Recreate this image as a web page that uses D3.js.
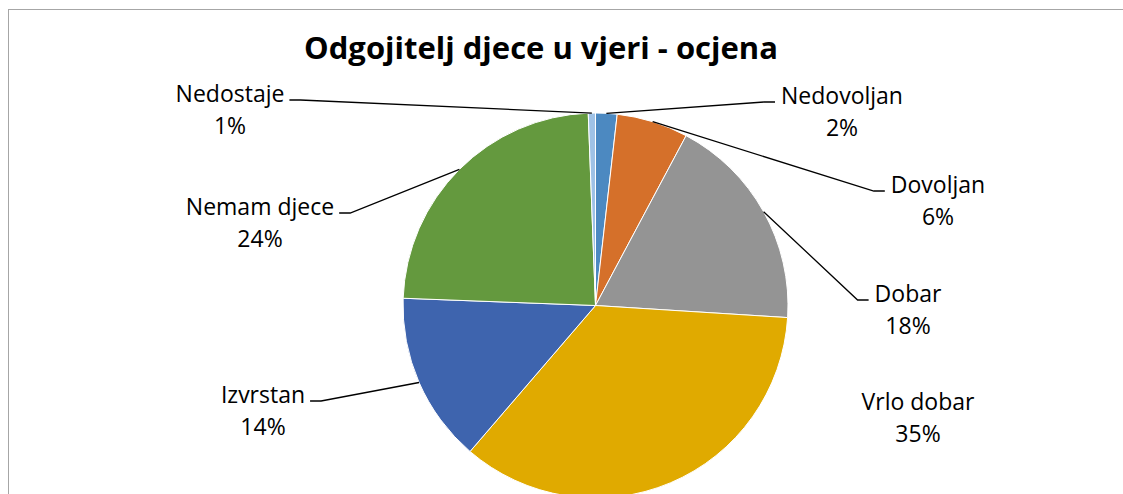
<!DOCTYPE html>
<html>
<head>
    <meta charset="UTF-8">
    <title>Odgojitelj djece u vjeri - ocjena</title>
    <style>
        body {
            margin: 0;
            padding: 0;
            background-color: white;
            font-family: "Open Sans", sans-serif;
        }
        .label text {
            fill: #000;
            font-size: 23px;
            text-anchor: middle;
        }
        .leader {
            fill: none;
            stroke: #000;
            stroke-width: 1.3px;
        }
        .slice {
            stroke: white;
            stroke-width: 1px;
        }
    </style>
    <script src="https://d3js.org/d3.v7.min.js"></script>
</head>
<body>
    <div id="chart"></div>

    <script>
        var title = "Odgojitelj djece u vjeri - ocjena";
        var categories = ["Nedovoljan", "Dovoljan", "Dobar", "Vrlo dobar", "Izvrstan", "Nemam djece", "Nedostaje"];
        var values = [1.8, 6.0, 18.2, 35.3, 14.3, 23.8, 0.6];
        var colors = ["#4c89c1", "#d5702a", "#949494", "#e0aa00", "#3e64ae", "#64993e", "#9fc2e6"];

        // label placement, Excel style: centre x and first baseline of each label
        var labelX = [842, 938, 908, 918, 263, 260, 230];
        var labelY = [104, 193, 302, 410, 403, 215, 102];
        var hasLeader = [true, true, true, false, true, true, true];

        var width = 1123,
            height = 494,
            cx = 595.5,
            cy = 305.5,
            radius = 192.5;

        var svg = d3.select("#chart").append("svg")
            .attr("width", width)
            .attr("height", height);

        // chart area border
        svg.append("rect")
            .attr("x", 8.5)
            .attr("y", 9.5)
            .attr("width", width)
            .attr("height", height)
            .attr("fill", "white")
            .attr("stroke", "#a6a6a6")
            .attr("stroke-width", 1);

        svg.append("text")
            .attr("x", 541)
            .attr("y", 59)
            .attr("text-anchor", "middle")
            .style("font-size", "31px")
            .style("font-weight", "bold")
            .text(title);

        var total = d3.sum(values);
        var data = categories.map(function (c, i) {
            return {name: c, value: values[i], i: i};
        });

        var pie = d3.pie()
            .sort(null)
            .value(function (d) { return d.value; });

        var arc = d3.arc().innerRadius(0).outerRadius(radius);
        var edge = d3.arc().innerRadius(radius).outerRadius(radius);

        var g = svg.append("g")
            .attr("transform", "translate(" + cx + "," + cy + ")");

        var arcs = pie(data);

        g.selectAll("path.slice")
            .data(arcs)
            .enter().append("path")
            .attr("class", "slice")
            .attr("d", arc)
            .attr("fill", function (d) { return colors[d.data.i]; });

        var labels = svg.selectAll("g.label")
            .data(arcs)
            .enter().append("g")
            .attr("class", "label");

        labels.append("text")
            .attr("class", "name")
            .attr("x", function (d) { return labelX[d.data.i]; })
            .attr("y", function (d) { return labelY[d.data.i]; })
            .text(function (d) { return d.data.name; });

        labels.append("text")
            .attr("x", function (d) { return labelX[d.data.i]; })
            .attr("y", function (d) { return labelY[d.data.i] + 32; })
            .text(function (d) { return Math.round(d.data.value / total * 100) + "%"; });

        // leader lines: from the middle of the slice's arc to an elbow, then flat to the label
        labels.each(function (d) {
            var i = d.data.i;
            if (!hasLeader[i]) return;
            var box = d3.select(this).select("text.name").node().getBBox();
            var p = edge.centroid(d);
            var px = p[0] + cx, py = p[1] + cy;
            var left = labelX[i] < cx;
            var ly = labelY[i] - 2;
            var ex = left ? box.x + box.width + 5 : box.x - 6;
            var kx = left ? ex + 11 : ex - 11;
            d3.select(this).append("polyline")
                .attr("class", "leader")
                .attr("points", [[px, py], [kx, ly], [ex, ly]].map(function (q) { return q.join(","); }).join(" "));
        });
    </script>
</body>
</html>
